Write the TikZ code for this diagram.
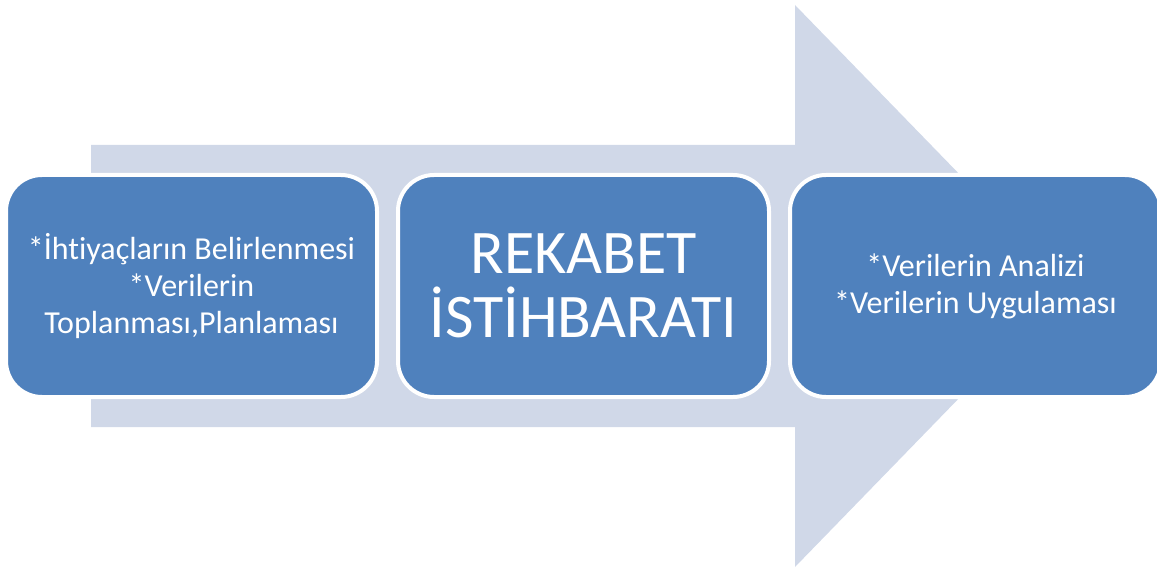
\documentclass[tikz,border=0pt]{standalone}
\usepackage{fontspec}
\setmainfont{Carlito}[Ligatures=NoCommon]
\usetikzlibrary{positioning}
\definecolor{stepblue}{HTML}{4F81BD}
\definecolor{arrowgrey}{HTML}{D0D8E8}

\begin{document}
\begin{tikzpicture}[x=1pt, y=-1pt,
		stepbox/.style={rectangle, rounded corners=36pt, draw=white, line width=4pt,
			fill=stepblue, text=white, minimum width=371pt, minimum height=222pt,
			align=center, font=\fontsize{32}{37}\selectfont},
		node distance=17pt]
			\useasboundingbox (0,0) rectangle (1157,572);
			% wide arrow behind the steps
			\fill [arrowgrey] (91,145) -- (795,145) -- (795,5) -- (1068,286)
				-- (795,567) -- (795,427) -- (91,427) -- cycle;
			\node (needs) [stepbox] at (191.5,286)
				{*İhtiyaçların Belirlenmesi\\*Verilerin\\Toplanması,Planlaması};
			\node (core) [stepbox, right=of needs,
				font=\fontsize{62}{64}\selectfont] {REKABET\\İSTİHBARATI};
			\node (usage) [stepbox, right=of core]
				{*Verilerin Analizi\\*Verilerin Uygulaması};
		\end{tikzpicture}
\end{document}
